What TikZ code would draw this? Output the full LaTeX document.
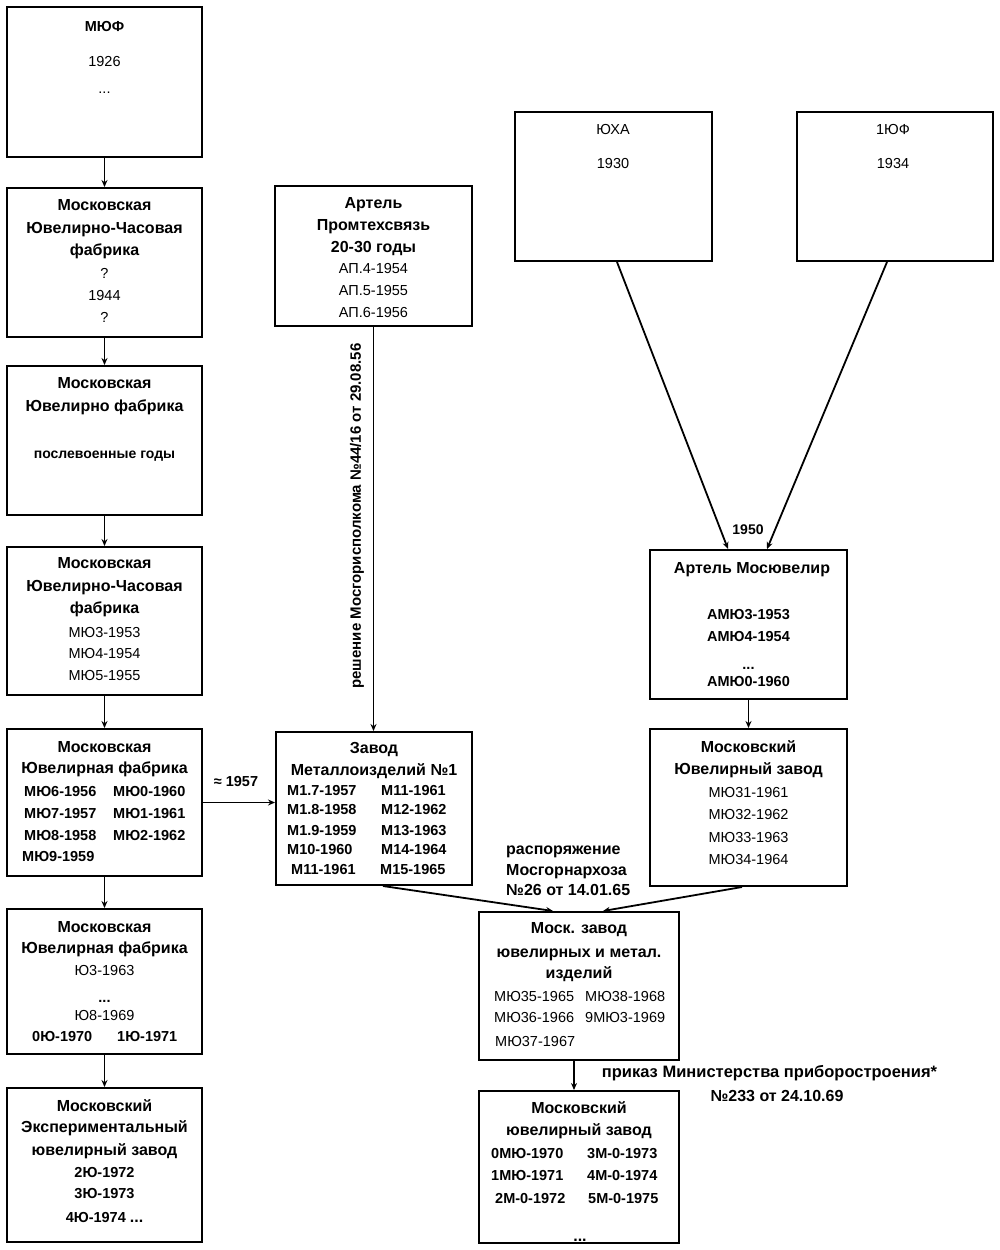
\documentclass[tikz,border=0pt]{standalone}
\usepackage{fontspec}
\setmainfont{Liberation Sans}
\usetikzlibrary{arrows.meta}
\begin{document}
\begin{tikzpicture}[x=1pt,y=-1pt,
  box/.style={draw, line width=2pt, inner sep=0pt},
  tl/.style={anchor=base, inner sep=0pt, yshift=-5pt},
  hd/.style={tl, font=\bfseries\fontsize{16}{19}\selectfont},
  hs/.style={tl, font=\bfseries\fontsize{14}{17}\selectfont},
  nm/.style={tl, font=\fontsize{14.5}{17}\selectfont},
  nb/.style={tl, font=\bfseries\fontsize{14.5}{17}\selectfont},
  lw/.style={anchor=base west},
  arr/.style={-{Stealth[length=7pt,width=6pt]}, line width=1.8pt}]
\useasboundingbox (0,0) rectangle (1000,1250);
\fill[white] (0,0) rectangle (1000,1250);

% ---------- boxes ----------
\node[box, minimum width=195pt, minimum height=150pt] (b1) at (104.5,82) {};
\node[box, minimum width=195pt, minimum height=149pt] (b2) at (104.5,262.5) {};
\node[box, minimum width=195pt, minimum height=149pt] (b3) at (104.5,440.5) {};
\node[box, minimum width=195pt, minimum height=148pt] (b4) at (104.5,621) {};
\node[box, minimum width=195pt, minimum height=147pt] (b5) at (104.5,802.5) {};
\node[box, minimum width=195pt, minimum height=145pt] (b6) at (104.5,981.5) {};
\node[box, minimum width=195pt, minimum height=154pt] (b7) at (104.5,1165) {};
\node[box, minimum width=197pt, minimum height=140pt] (art) at (373.5,256) {};
\node[box, minimum width=196pt, minimum height=153pt] (zav) at (374,808.5) {};
\node[box, minimum width=197pt, minimum height=149pt] (yuha) at (613.5,186.5) {};
\node[box, minimum width=196pt, minimum height=149pt] (yuf) at (895,186.5) {};
\node[box, minimum width=197pt, minimum height=149pt] (mosj) at (748.5,624.5) {};
\node[box, minimum width=197pt, minimum height=157pt] (mjz) at (748.5,807.5) {};
\node[box, minimum width=200pt, minimum height=148pt] (mz) at (579,986) {};
\node[box, minimum width=200pt, minimum height=152pt] (fin) at (579,1167) {};

% ---------- texts: left column ----------
\node[nb] (t1a) at (104.5,26) {МЮФ};
\node[nm] (t1b) at (104.5,61) {1926};
\node[nm, anchor=base, yshift=0pt] (t1c) at (104.5,88) {...};

\node[hd] (t2a) at (104.5,205) {Московская};
\node[hd] (t2b) at (104.5,228) {Ювелирно-Часовая};
\node[hd] (t2c) at (104.5,250) {фабрика};
\node[nm] (t2d) at (104.5,273) {?};
\node[nm] (t2e) at (104.5,295) {1944};
\node[nm] (t2f) at (104.5,317) {?};

\node[hd] (t3a) at (104.5,383) {Московская};
\node[hd] (t3b) at (104.5,406) {Ювелирно фабрика};
\node[hs] (t3c) at (104.5,453) {послевоенные годы};

\node[hd] (t4a) at (104.5,563) {Московская};
\node[hd] (t4b) at (104.5,586) {Ювелирно-Часовая};
\node[hd] (t4c) at (104.5,608) {фабрика};
\node[nm] (t4d) at (104.5,632) {МЮ3-1953};
\node[nm] (t4e) at (104.5,653) {МЮ4-1954};
\node[nm] (t4f) at (104.5,675) {МЮ5-1955};

\node[hd] (t5a) at (104.5,747) {Московская};
\node[hd] (t5b) at (104.5,768) {Ювелирная фабрика};
\node[nb, lw] (t5c) at (24,791) {МЮ6-1956};
\node[nb, lw] (t5d) at (113,791) {МЮ0-1960};
\node[nb, lw] (t5e) at (24,813) {МЮ7-1957};
\node[nb, lw] (t5f) at (113,813) {МЮ1-1961};
\node[nb, lw] (t5g) at (24,835) {МЮ8-1958};
\node[nb, lw] (t5h) at (113,835) {МЮ2-1962};
\node[nb, lw] (t5i) at (22,856) {МЮ9-1959};

\node[hd] (t6a) at (104.5,927) {Московская};
\node[hd] (t6b) at (104.5,948) {Ювелирная фабрика};
\node[nm] (t6c) at (104.5,970) {Ю3-1963};
\node[nb, anchor=base, yshift=0pt] (t6d) at (104.5,997) {...};
\node[nm] (t6e) at (104.5,1015) {Ю8-1969};
\node[nb, lw] (t6f) at (32,1036) {0Ю-1970};
\node[nb, lw] (t6g) at (117,1036) {1Ю-1971};

\node[hd] (t7a) at (104.5,1106) {Московский};
\node[hd] (t7b) at (104.5,1127) {Экспериментальный};
\node[hd] (t7c) at (104.5,1150) {ювелирный завод};
\node[nb] (t7d) at (104.5,1172) {2Ю-1972};
\node[nb] (t7e) at (104.5,1193) {3Ю-1973};
\node[nb] (t7f) at (104.5,1217) {4Ю-1974 \textbf{\fontsize{16}{19}\selectfont...}};

% ---------- Artel Promtekhsvyaz ----------
\node[hd] (ta1) at (373.5,203) {Артель};
\node[hd] (ta2) at (373.5,225) {Промтехсвязь};
\node[hd] (ta3) at (373.5,247) {20-30 годы};
\node[nm] (ta4) at (373.5,268) {АП.4-1954};
\node[nm] (ta5) at (373.5,290) {АП.5-1955};
\node[nm] (ta6) at (373.5,312) {АП.6-1956};

% ---------- Zavod Metalloizdeliy ----------
\node[hd] (tz1) at (374,748) {Завод};
\node[hd] (tz2) at (374,770) {Металлоизделий №1};
\node[nb, lw] (tz3) at (287,790) {М1.7-1957};
\node[nb, lw] (tz4) at (381,790) {М11-1961};
\node[nb, lw] (tz5) at (287,809) {М1.8-1958};
\node[nb, lw] (tz6) at (381,809) {М12-1962};
\node[nb, lw] (tz7) at (287,830) {М1.9-1959};
\node[nb, lw] (tz8) at (381,830) {М13-1963};
\node[nb, lw] (tz9) at (287,849) {М10-1960};
\node[nb, lw] (tz10) at (381,849) {М14-1964};
\node[nb, lw] (tz11) at (291,869) {М11-1961};
\node[nb, lw] (tz12) at (380,869) {М15-1965};

% ---------- YuKhA, 1YuF ----------
\node[nm] (ty1) at (613,129) {ЮХА};
\node[nm] (ty2) at (613,163) {1930};
\node[nm] (tf1) at (893,129) {1ЮФ};
\node[nm] (tf2) at (893,163) {1934};

% ---------- Artel Mosyuvelir ----------
\node[hd] (tm1) at (752,568) {Артель Мосювелир};
\node[nb] (tm2) at (748.5,614) {АМЮ3-1953};
\node[nb] (tm3) at (748.5,636) {АМЮ4-1954};
\node[nb, anchor=base, yshift=0pt] (tm4) at (748.5,664) {...};
\node[nb] (tm5) at (748.5,681) {АМЮ0-1960};

% ---------- Moskovskiy Yuvelirnyy zavod ----------
\node[hd] (tj1) at (748.5,747) {Московский};
\node[hd] (tj2) at (748.5,769) {Ювелирный завод};
\node[nm] (tj3) at (748.5,792) {МЮ31-1961};
\node[nm] (tj4) at (748.5,814) {МЮ32-1962};
\node[nm] (tj5) at (748.5,837) {МЮ33-1963};
\node[nm] (tj6) at (748.5,859) {МЮ34-1964};

% ---------- Mosk. zavod yuvelirnykh ----------
\node[hd] (tk1) at (579,928) {Моск. завод};
\node[hd] (tk2) at (579,952) {ювелирных и метал.};
\node[hd] (tk3) at (579,973) {изделий};
\node[nm, lw] (tk4) at (494,996) {МЮ35-1965};
\node[nm, lw] (tk5) at (585,996) {МЮ38-1968};
\node[nm, lw] (tk6) at (494,1017) {МЮ36-1966};
\node[nm, lw] (tk7) at (585,1017) {9МЮ3-1969};
\node[nm, lw] (tk8) at (495,1041) {МЮ37-1967};

% ---------- final ----------
\node[hd] (tn1) at (579,1108) {Московский};
\node[hd] (tn2) at (579,1130) {ювелирный завод};
\node[nb, lw] (tn3) at (491,1153) {0МЮ-1970};
\node[nb, lw] (tn4) at (587,1153) {3М-0-1973};
\node[nb, lw] (tn5) at (491,1175) {1МЮ-1971};
\node[nb, lw] (tn6) at (587,1175) {4М-0-1974};
\node[nb, lw] (tn7) at (495,1198) {2М-0-1972};
\node[nb, lw] (tn8) at (588,1198) {5М-0-1975};
\node[hd, anchor=base, yshift=0pt] (tn9) at (580,1236) {...};

% ---------- connectors ----------
\draw[arr] (b1) -- (b2);
\draw[arr] (b2) -- (b3);
\draw[arr] (b3) -- (b4);
\draw[arr] (b4) -- (b5);
\draw[arr] (b5) -- (b6);
\draw[arr] (b6) -- (b7);
\draw[arr] (art.south) -- (art.south |- zav.north);
\draw[arr] (b5.east) -- (b5.east -| zav.west);
\draw[arr] ([xshift=3.5pt]yuha.south) -- ([xshift=-20.5pt]mosj.north);
\draw[arr] ([xshift=-8pt]yuf.south) -- ([xshift=18.5pt]mosj.north);
\draw[arr] (mosj) -- (mjz);
\draw[arr] ([xshift=9pt]zav.south) -- ([xshift=-26pt]mz.north);
\draw[arr] ([xshift=-6.5pt]mjz.south) -- ([xshift=24pt]mz.north);
\draw[arr] ([xshift=-5pt]mz.south) -- ([xshift=-5pt]fin.north);

% ---------- connector labels ----------
\node[hd, font=\bfseries\fontsize{15}{18}\selectfont, rotate=90, anchor=center, yshift=0pt] (lrot) at (357,511) {решение Мосгорисполкома №44/16 от 29.08.56};
\node[nb] (l1957) at (236,781) {≈ 1957};
\node[hs] (l1950) at (748,529) {1950};
\node[hd, lw] (lr1) at (506,849) {распоряжение};
\node[hd, lw] (lr2) at (506,870) {Мосгорнархоза};
\node[hd, lw] (lr3) at (506,890) {№26 от 14.01.65};
\node[hd, font=\bfseries\fontsize{16.5}{19}\selectfont] (lp1) at (769.5,1072) {приказ Министерства приборостроения*};
\node[hd] (lp2) at (777,1096) {№233 от 24.10.69};
\end{tikzpicture}
\end{document}
